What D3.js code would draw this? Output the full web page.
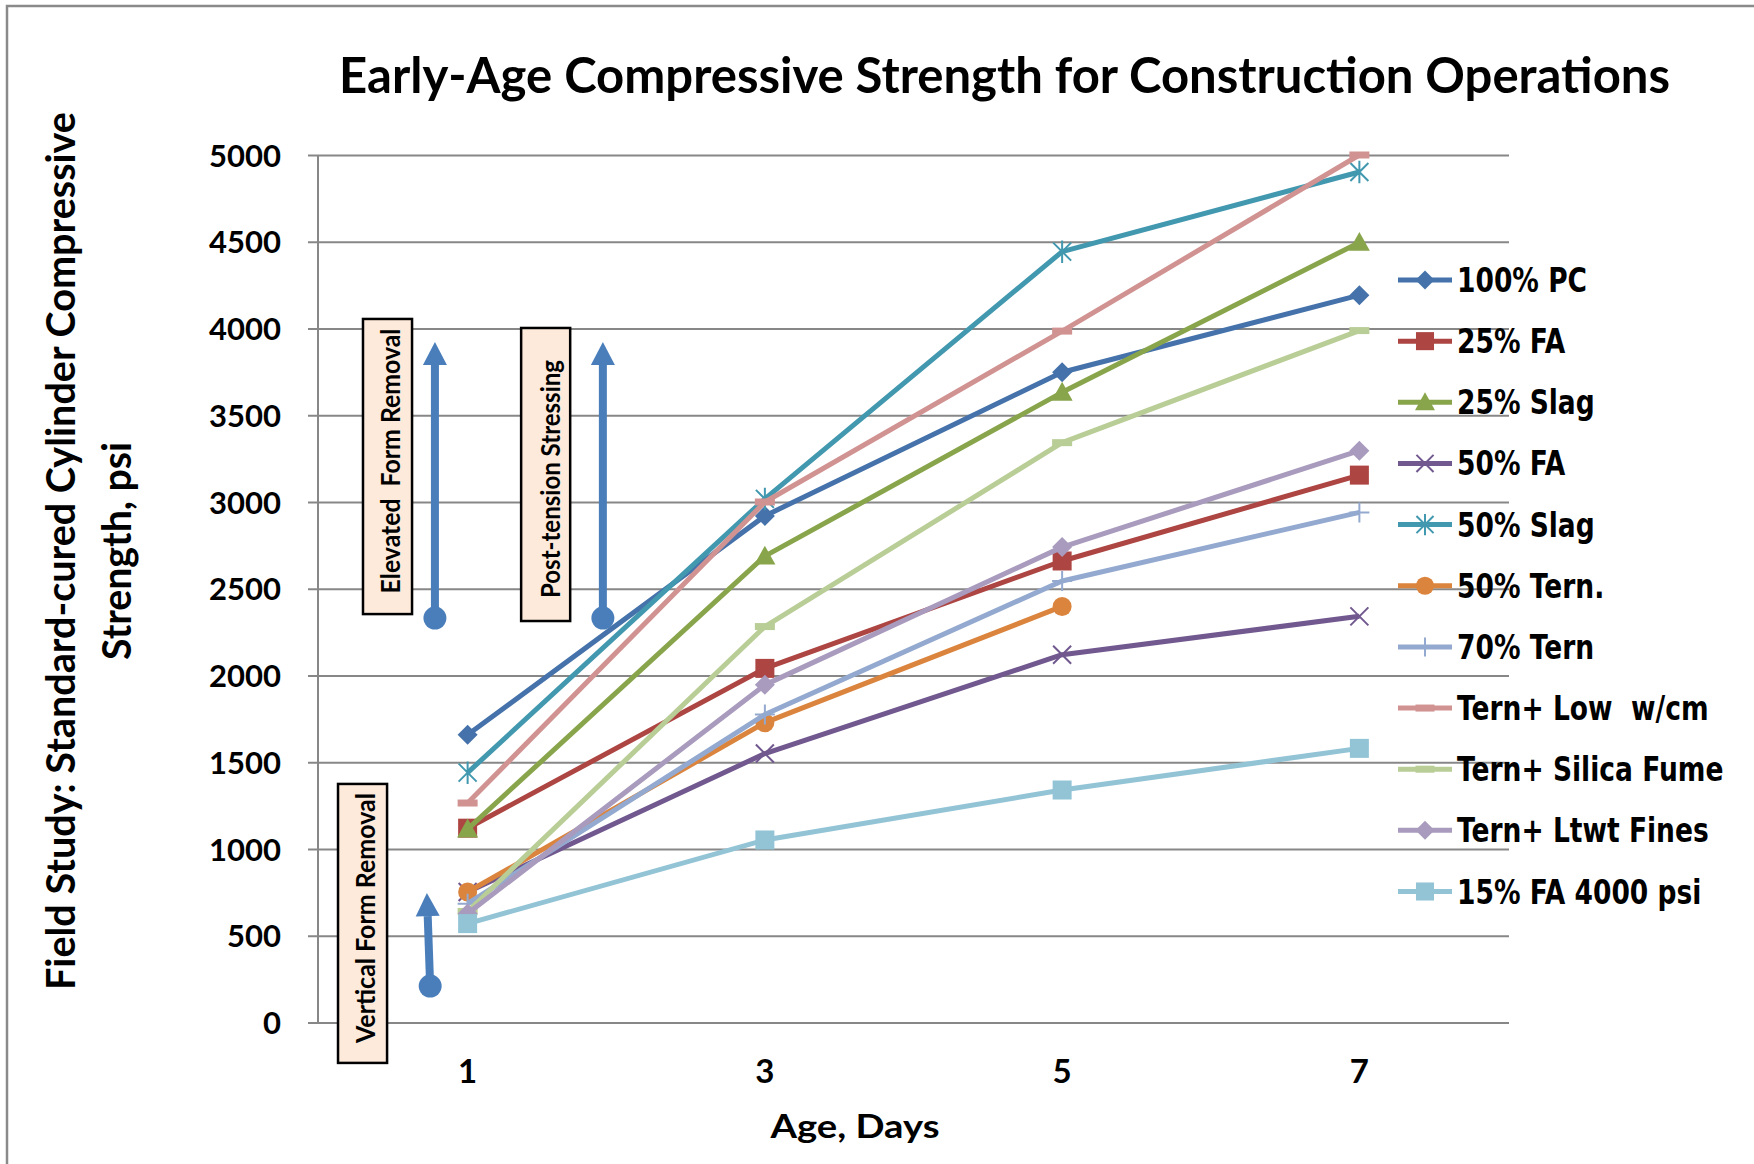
<!DOCTYPE html>
<html>
<head>
<meta charset="utf-8">
<script src="https://cdn.jsdelivr.net/npm/d3@7"></script>
<style>
  html, body { margin: 0; padding: 0; background: #fff; }
  svg { display: block; }
  text { white-space: pre; }
</style>
</head>
<body>
<svg id="chart" width="1754" height="1164"></svg>
<script>
// ---------------- DATA ----------------
const days = ["1", "3", "5", "7"];
const yTicks = [0, 500, 1000, 1500, 2000, 2500, 3000, 3500, 4000, 4500, 5000];

const seriesNames = ["100% PC", "25% FA", "25% Slag", "50% FA", "50% Slag", "50% Tern.",
  "70% Tern", "Tern+ Low  w/cm", "Tern+ Silica Fume", "Tern+ Ltwt Fines", "15% FA 4000 psi"];

const pc100      = [1658, 2920, 3748, 4192];
const fa25       = [1120, 2041, 2660, 3155];
const slag25     = [1115, 2688, 3632, 4496];
const fa50       = [752, 1550, 2120, 2341];
const slag50     = [1440, 3018, 4443, 4902];
const tern50     = [752, 1728, 2398, null];
const tern70     = [685, 1775, 2545, 2940];
const lowWcm     = [1265, 3000, 3985, 5000];
const silicaFume = [640, 2282, 3342, 3988];
const ltwtFines  = [628, 1946, 2740, 3296];
const fa15psi    = [570, 1052, 1340, 1580];

const seriesValues = [pc100, fa25, slag25, fa50, slag50, tern50, tern70, lowWcm, silicaFume, ltwtFines, fa15psi];
const seriesColors = ["#4572AA", "#AD4542", "#89A54C", "#71588F", "#4198AF", "#DB843D",
  "#93A9CF", "#D19392", "#B9CD96", "#A99BBD", "#92C4D6"];
const seriesMarkers = ["diamond", "square", "triangle", "x", "asterisk", "circle",
  "plus", "dash", "dash", "diamond", "square"];

// annotations (x: offset in category bands from day 1, values in psi)
const annotationLabels = ["Elevated  Form Removal", "Post-tension Stressing", "Vertical Form Removal"];
const boxX0 = [-0.352, 0.180, -0.436];
const boxX1 = [-0.187, 0.345, -0.271];
const boxTop = [4055, 4003, 1375];
const boxBottom = [2354, 2314, -233];
const arrowXFrom = [-0.110, 0.455, -0.126];
const arrowXTo   = [-0.110, 0.455, -0.137];
const arrowFrom  = [2331, 2331, 210];
const arrowTo    = [3922, 3922, 746];

// ---------------- CHART ----------------
const svg = d3.select("#chart");
const plot = { left: 319, right: 1508, top: 155, bottom: 1022.5 };

const x = d3.scaleBand().domain(days).range([plot.left, plot.right]).padding(0);
const cx = d => x(d) + x.bandwidth() / 2;
const xOff = o => cx(days[0]) + o * x.bandwidth();
const y = d3.scaleLinear().domain([0, 5000]).range([plot.bottom, plot.top]);

// outer border
svg.append("rect").attr("x", 7).attr("y", 6).attr("width", 1800).attr("height", 1200)
  .attr("fill", "none").attr("stroke", "#8a8a8a").attr("stroke-width", 2.5);

// y axis with gridlines
const yAxis = svg.append("g")
  .attr("transform", `translate(${plot.right + 1},0)`)
  .call(d3.axisLeft(y).tickValues(yTicks).tickSize(plot.right + 1 - 308).tickPadding(27).tickFormat(d3.format("d")));
yAxis.select(".domain").remove();
yAxis.selectAll(".tick line").attr("stroke", "#878787").attr("stroke-width", 2);
yAxis.selectAll(".tick text")
  .attr("font-family", "Lato, 'Open Sans', sans-serif").attr("font-weight", "bold")
  .attr("font-size", 31).attr("fill", "#000").attr("dy", "0.36em");

svg.append("line").attr("x1", plot.left - 1).attr("x2", plot.left - 1)
  .attr("y1", y(5000)).attr("y2", y(0)).attr("stroke", "#878787").attr("stroke-width", 2);

// x axis labels
const xAxis = svg.append("g")
  .attr("transform", `translate(0,${plot.bottom})`)
  .call(d3.axisBottom(x).tickSize(0).tickPadding(0));
xAxis.select(".domain").remove();
xAxis.selectAll(".tick text")
  .attr("font-family", "Lato, 'Open Sans', sans-serif").attr("font-weight", "bold")
  .attr("font-size", 33).attr("fill", "#000").attr("y", 60.5).attr("dy", 0);

// titles
svg.append("text").attr("x", 1004.5).attr("y", 93).attr("text-anchor", "middle")
  .attr("font-family", "Lato, 'Open Sans', sans-serif").attr("font-weight", "bold").attr("font-size", 49)
  .attr("textLength", 1331).attr("lengthAdjust", "spacingAndGlyphs")
  .text("Early-Age Compressive Strength for Construction Operations");

svg.append("text").attr("x", 855).attr("y", 1138).attr("text-anchor", "middle")
  .attr("font-family", "Lato, 'Open Sans', sans-serif").attr("font-weight", "bold").attr("font-size", 32)
  .attr("textLength", 169).attr("lengthAdjust", "spacingAndGlyphs")
  .text("Age, Days");

const yTitleLines = ["Field Study: Standard-cured Cylinder Compressive", "Strength, psi"];
const yTitleBase = [75, 131];
const yTitleLen = [878, 218];
yTitleLines.forEach((t, i) => {
  svg.append("text").attr("transform", `translate(${yTitleBase[i]},551) rotate(-90)`)
    .attr("text-anchor", "middle")
    .attr("font-family", "Lato, 'Open Sans', sans-serif").attr("font-weight", "bold").attr("font-size", 40)
    .attr("textLength", yTitleLen[i]).attr("lengthAdjust", "spacingAndGlyphs")
    .text(t);
});

// annotations
const annTextBase = [400, 560, 375];
const annTextCenter = [461, 479, 918];
const annTextLen = [265, 238, 250];
const arrowColor = "#4A7EBB";
annotationLabels.forEach((t, i) => {
  const bx0 = xOff(boxX0[i]), bx1 = xOff(boxX1[i]);
  svg.append("rect").attr("x", bx0).attr("y", y(boxTop[i]))
    .attr("width", bx1 - bx0).attr("height", y(boxBottom[i]) - y(boxTop[i]))
    .attr("fill", "#FDEADA").attr("stroke", "#000").attr("stroke-width", 2.5);
  svg.append("text").attr("transform", `translate(${annTextBase[i]},${annTextCenter[i]}) rotate(-90)`)
    .attr("text-anchor", "middle")
    .attr("font-family", "Lato, 'Open Sans', sans-serif").attr("font-weight", "bold").attr("font-size", 27)
    .attr("textLength", annTextLen[i]).attr("lengthAdjust", "spacingAndGlyphs")
    .text(t);
  // arrow
  const x1 = xOff(arrowXFrom[i]), y1 = y(arrowFrom[i]);
  const x2 = xOff(arrowXTo[i]), y2 = y(arrowTo[i]);
  const ang = Math.atan2(y2 - y1, x2 - x1);
  const headLen = 23, headW = 12;
  const bxh = x2 - headLen * Math.cos(ang), byh = y2 - headLen * Math.sin(ang);
  svg.append("line").attr("x1", x1).attr("y1", y1).attr("x2", bxh).attr("y2", byh)
    .attr("stroke", arrowColor).attr("stroke-width", 8);
  const px = -Math.sin(ang), py = Math.cos(ang);
  svg.append("path")
    .attr("d", `M${x2},${y2} L${bxh + px * headW},${byh + py * headW} L${bxh - px * headW},${byh - py * headW} Z`)
    .attr("fill", arrowColor);
  svg.append("circle").attr("cx", x1).attr("cy", y1).attr("r", 11.5).attr("fill", arrowColor);
});

// marker drawing
function drawMarker(g, type, px, py, color, s) {
  s = s || 1;
  if (type === "diamond") {
    const r = 10 * s;
    g.append("path").attr("d", `M${px},${py - r} L${px + r},${py} L${px},${py + r} L${px - r},${py} Z`).attr("fill", color);
  } else if (type === "square") {
    const r = 9.5 * s;
    g.append("rect").attr("x", px - r).attr("y", py - r).attr("width", 2 * r).attr("height", 2 * r).attr("fill", color);
  } else if (type === "triangle") {
    const r = 10.5 * s;
    g.append("path").attr("d", `M${px},${py - r} L${px + r},${py + r * 0.8} L${px - r},${py + r * 0.8} Z`).attr("fill", color);
  } else if (type === "circle") {
    g.append("circle").attr("cx", px).attr("cy", py).attr("r", 9.5 * s).attr("fill", color);
  } else if (type === "x") {
    const r = 9 * s;
    g.append("path").attr("d", `M${px - r},${py - r} L${px + r},${py + r} M${px - r},${py + r} L${px + r},${py - r}`)
      .attr("stroke", color).attr("stroke-width", 2).attr("fill", "none");
  } else if (type === "asterisk") {
    const r = 9 * s;
    g.append("path").attr("d", `M${px - r},${py - r} L${px + r},${py + r} M${px - r},${py + r} L${px + r},${py - r} M${px},${py - r * 1.25} L${px},${py + r * 1.25}`)
      .attr("stroke", color).attr("stroke-width", 2).attr("fill", "none");
  } else if (type === "plus") {
    const r = 10 * s;
    g.append("path").attr("d", `M${px - r},${py} L${px + r},${py} M${px},${py - r} L${px},${py + r}`)
      .attr("stroke", color).attr("stroke-width", 2).attr("fill", "none");
  } else if (type === "dash") {
    const r = 10 * s;
    g.append("rect").attr("x", px - r).attr("y", py - 3.5).attr("width", 2 * r).attr("height", 7).attr("fill", color);
  }
}

// series
const line = d3.line().defined(v => v.v != null).x(v => cx(v.d)).y(v => y(v.v));
seriesValues.forEach((vals, i) => {
  const g = svg.append("g");
  const pts = vals.map((v, j) => ({ d: days[j], v }));
  g.append("path").attr("d", line(pts)).attr("fill", "none")
    .attr("stroke", seriesColors[i]).attr("stroke-width", 5).attr("stroke-linejoin", "round");
  pts.filter(p => p.v != null).forEach(p => drawMarker(g, seriesMarkers[i], cx(p.d), y(p.v), seriesColors[i]));
});

// legend
const legX0 = 1398, legX1 = 1452, legTextX = 1457, legY0 = 280, legStep = 61.15;
seriesNames.forEach((name, i) => {
  const yy = legY0 + i * legStep;
  const g = svg.append("g");
  g.append("line").attr("x1", legX0).attr("x2", legX1).attr("y1", yy).attr("y2", yy)
    .attr("stroke", seriesColors[i]).attr("stroke-width", 5);
  drawMarker(g, seriesMarkers[i], (legX0 + legX1) / 2, yy, seriesColors[i], 0.95);
  g.append("text").attr("transform", `translate(${legTextX},${yy + 12}) scale(1.02,1.27)`)
    .attr("font-family", "'DejaVu Sans', Verdana, sans-serif").attr("font-weight", "bold").attr("font-size", 26)
    .attr("fill", "#000").text(name);
});
</script>
</body>
</html>
